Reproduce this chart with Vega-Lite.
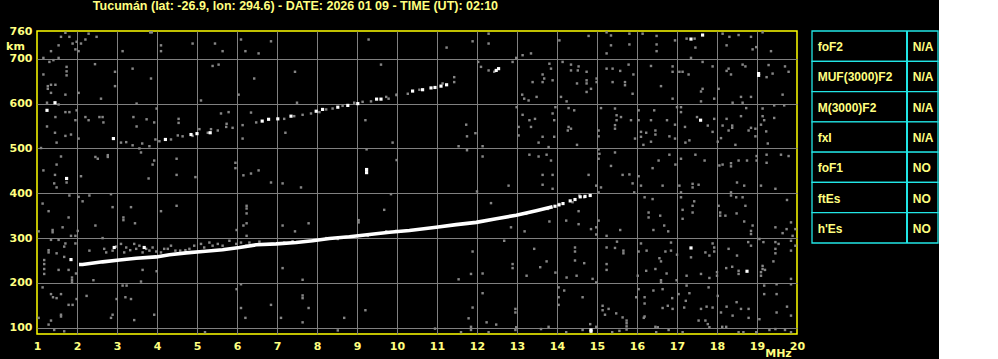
{
"$schema": "https://vega.github.io/schema/vega-lite/v6.json",
"background": "black",
"padding": {"left": 4, "top": 0, "right": 0, "bottom": 0},
"title": {"text": "Tucumán (lat: -26.9, lon: 294.6) - DATE: 2026 01 09 - TIME (UT): 02:10", "anchor": "start", "dx": 88, "offset": 12.5, "font": "Liberation Sans", "fontSize": 12.5, "fontWeight": "bold", "color": "#ffff80"},
"config": {"view": {"stroke": null}},
"spacing": 5,
"datasets": {
"trace": [
{"f":2.05,"h":241},{"f":2.14,"h":241},{"f":2.64,"h":247},{"f":3.06,"h":251},{"f":3.48,"h":255},{"f":3.98,"h":258},{"f":4.31,"h":263},{"f":4.73,"h":267},{"f":5.14,"h":270},{"f":5.64,"h":274},{"f":6.06,"h":279},{"f":6.48,"h":285},{"f":6.98,"h":287},{"f":7.48,"h":290},{"f":7.89,"h":294},{"f":8.31,"h":299},{"f":8.81,"h":303},{"f":9.31,"h":308},{"f":9.81,"h":313},{"f":10.31,"h":317},{"f":10.98,"h":324},{"f":11.48,"h":330},{"f":11.98,"h":335},{"f":12.48,"h":343},{"f":12.98,"h":351},{"f":13.48,"h":361},{"f":13.89,"h":370}
],
"white": [
{"f":13.95,"h":371},{"f":14.05,"h":374},{"f":14.15,"h":377},{"f":14.33,"h":383},{"f":14.45,"h":386},{"f":14.58,"h":392},{"f":14.7,"h":393},{"f":14.83,"h":395},
{"f":2.91,"h":522},{"f":4.21,"h":520},{"f":4.85,"h":531},{"f":5.0,"h":533},{"f":5.33,"h":535},{"f":6.63,"h":561},{"f":6.79,"h":565},{"f":7.02,"h":566},{"f":7.35,"h":572},{"f":7.98,"h":583},{"f":8.14,"h":587},{"f":8.52,"h":592},{"f":8.77,"h":596},{"f":9.02,"h":600},{"f":9.49,"h":610},{"f":9.6,"h":610},{"f":10.39,"h":628},{"f":10.64,"h":631},{"f":10.85,"h":635},{"f":10.95,"h":636},{"f":11.1,"h":639},{"f":11.24,"h":642},{"f":12.48,"h":674},{"f":12.54,"h":678},
{"f":1.45,"h":602},{"f":1.25,"h":585},{"f":1.74,"h":433},{"f":1.85,"h":252},{"f":2.93,"h":279},{"f":3.68,"h":279},{"f":9.24,"h":453},{"f":9.24,"h":446},{"f":17.64,"h":753},{"f":17.35,"h":744},{"f":19.04,"h":667},{"f":19.04,"h":663},{"f":17.59,"h":563},{"f":18.75,"h":226},{"f":17.35,"h":278},{"f":14.85,"h":92},{"f":14.85,"h":95}
],
"gray": [
{"f":3.1,"h":513},{"f":3.23,"h":514},{"f":3.39,"h":507},{"f":3.63,"h":511},{"f":3.81,"h":505},{"f":3.96,"h":520},{"f":4.06,"h":516},{"f":4.35,"h":520},{"f":4.52,"h":529},{"f":4.64,"h":527},{"f":4.89,"h":528},{"f":5.06,"h":543},{"f":5.27,"h":535},{"f":5.35,"h":543},{"f":5.52,"h":540},{"f":5.73,"h":548},{"f":5.89,"h":546},{"f":6.14,"h":552},{"f":6.48,"h":558},{"f":7.18,"h":566},{"f":7.43,"h":572},{"f":7.64,"h":575},{"f":7.85,"h":578},{"f":8.06,"h":581},{"f":8.23,"h":587},{"f":8.39,"h":589},{"f":8.64,"h":595},{"f":8.93,"h":602},{"f":9.14,"h":604},{"f":9.35,"h":605},{"f":9.73,"h":615},{"f":9.79,"h":611},{"f":9.99,"h":619},{"f":10.27,"h":622},{"f":10.56,"h":631},{"f":11.14,"h":645},{"f":11.43,"h":648},{"f":11.43,"h":659},{"f":12.43,"h":671},
{"f":2.31,"h":272},{"f":2.68,"h":276},{"f":2.73,"h":268},{"f":2.89,"h":272},{"f":2.98,"h":281},{"f":3.1,"h":287},{"f":3.18,"h":268},{"f":3.23,"h":279},{"f":3.33,"h":273},{"f":3.43,"h":287},{"f":3.48,"h":276},{"f":3.56,"h":283},{"f":3.64,"h":268},{"f":3.73,"h":276},{"f":3.81,"h":272},{"f":3.89,"h":279},{"f":3.98,"h":270},{"f":4.1,"h":268},{"f":4.18,"h":276},{"f":4.27,"h":276},{"f":4.35,"h":283},{"f":4.46,"h":272},{"f":4.58,"h":272},{"f":4.71,"h":273},{"f":4.81,"h":276},{"f":4.93,"h":283},{"f":5.1,"h":287},{"f":5.18,"h":279},{"f":5.31,"h":290},{"f":5.39,"h":283},{"f":5.52,"h":287},{"f":5.64,"h":283},{"f":5.81,"h":294},{"f":5.98,"h":287},{"f":6.1,"h":290},{"f":6.23,"h":283},{"f":6.31,"h":290},{"f":6.56,"h":292},{"f":6.89,"h":287},{"f":7.18,"h":290},{"f":7.39,"h":293},{"f":7.89,"h":296},{"f":8.23,"h":300},{"f":8.52,"h":298},{"f":8.81,"h":303},{"f":9.27,"h":305},{"f":9.73,"h":315},{"f":9.98,"h":316},
{"f":14.06,"h":376},{"f":14.39,"h":380},{"f":14.56,"h":395},{"f":14.68,"h":391},{"f":13.23,"h":354},{"f":13.77,"h":365},
{"f":11.24,"h":725},{"f":11.89,"h":739},{"f":12.29,"h":756},{"f":12.29,"h":734},{"f":13.14,"h":708},{"f":13.35,"h":712},{"f":12.98,"h":702},{"f":14.06,"h":741},{"f":14.79,"h":751},{"f":15.24,"h":759},{"f":15.35,"h":752},{"f":15.35,"h":730},{"f":15.81,"h":756},{"f":15.81,"h":732},{"f":15.24,"h":712},{"f":16.14,"h":756},{"f":16.49,"h":751},{"f":16.49,"h":732},{"f":16.49,"h":717},{"f":16.95,"h":741},{"f":17.24,"h":745},{"f":17.44,"h":745},{"f":18.14,"h":756},{"f":18.31,"h":749},{"f":18.54,"h":753},{"f":18.85,"h":749},{"f":19.14,"h":759},{"f":18.89,"h":721},{"f":19.35,"h":717},{"f":18.98,"h":726},{"f":18.24,"h":730},{"f":17.46,"h":725},{"f":17.35,"h":702},{"f":12.89,"h":693},{"f":12.03,"h":693},{"f":12.1,"h":682},{"f":12.29,"h":674},{"f":14.14,"h":693},{"f":14.35,"h":687},{"f":14.54,"h":683},{"f":14.35,"h":674},{"f":14.52,"h":674},{"f":14.74,"h":671},{"f":13.81,"h":689},{"f":13.85,"h":678},{"f":13.64,"h":665},{"f":13.68,"h":656},{"f":13.89,"h":652},{"f":13.39,"h":648},{"f":13.64,"h":648},{"f":14.5,"h":645},{"f":14.74,"h":652},{"f":14.74,"h":645},{"f":14.85,"h":633},{"f":14.74,"h":626},{"f":14.1,"h":615},{"f":14.24,"h":605},{"f":14.99,"h":656},{"f":14.99,"h":648},{"f":15.24,"h":678},{"f":15.39,"h":678},{"f":15.58,"h":673},{"f":15.79,"h":687},{"f":15.91,"h":665},{"f":15.39,"h":648},{"f":15.7,"h":648},{"f":15.7,"h":641},{"f":15.89,"h":622},{"f":16.35,"h":684},{"f":16.6,"h":639},{"f":16.89,"h":683},{"f":16.89,"h":671},{"f":17.06,"h":671},{"f":17.14,"h":671},{"f":17.29,"h":665},{"f":16.89,"h":611},{"f":17.64,"h":693},{"f":17.89,"h":683},{"f":17.64,"h":633},{"f":17.6,"h":627},{"f":17.6,"h":605},{"f":17.93,"h":611},{"f":18.04,"h":633},{"f":18.29,"h":678},{"f":18.24,"h":673},{"f":18.35,"h":665},{"f":18.64,"h":687},{"f":18.71,"h":683},{"f":19.24,"h":659},{"f":19.29,"h":686},{"f":19.39,"h":667},{"f":19.7,"h":683},{"f":19.79,"h":671},{"f":19.64,"h":620},{"f":18.85,"h":615},{"f":18.6,"h":615},{"f":18.39,"h":602},{"f":18.64,"h":602},{"f":19.43,"h":596},{"f":19.68,"h":596},{"f":13.13,"h":620},{"f":13.18,"h":611},{"f":13.29,"h":607},{"f":13.49,"h":615},{"f":12.99,"h":592},{"f":13.14,"h":575},{"f":13.31,"h":563},{"f":13.45,"h":566},{"f":13.04,"h":548},{"f":13.04,"h":529},{"f":13.35,"h":548},{"f":13.64,"h":526},{"f":13.54,"h":513},{"f":13.79,"h":503},{"f":13.93,"h":526},{"f":13.89,"h":578},{"f":13.93,"h":563},{"f":13.96,"h":592},{"f":14.29,"h":590},{"f":14.43,"h":585},{"f":14.29,"h":548},{"f":14.27,"h":540},{"f":14.35,"h":544},{"f":14.5,"h":508},{"f":14.79,"h":441},{"f":13.89,"h":441},{"f":13.64,"h":441},{"f":13.31,"h":486},{"f":13.54,"h":482},{"f":13.74,"h":486},{"f":13.85,"h":473},{"f":15.1,"h":590},{"f":15.04,"h":540},{"f":15.04,"h":527},{"f":15.04,"h":498},{"f":15.06,"h":488},{"f":15.45,"h":589},{"f":15.49,"h":574},{"f":15.49,"h":563},{"f":15.6,"h":570},{"f":15.45,"h":552},{"f":15.45,"h":544},{"f":15.85,"h":563},{"f":15.95,"h":522},{"f":16.04,"h":585},{"f":16.04,"h":563},{"f":16.1,"h":537},{"f":16.1,"h":526},{"f":16.23,"h":535},{"f":16.35,"h":563},{"f":16.43,"h":585},{"f":16.46,"h":540},{"f":16.46,"h":531},{"f":16.35,"h":515},{"f":16.16,"h":508},{"f":16.75,"h":563},{"f":16.81,"h":527},{"f":16.95,"h":553},{"f":16.95,"h":522},{"f":17.0,"h":592},{"f":17.1,"h":592},{"f":17.1,"h":581},{"f":17.2,"h":548},{"f":17.31,"h":518},{"f":17.21,"h":513},{"f":17.5,"h":570},{"f":17.77,"h":551},{"f":17.89,"h":537},{"f":17.93,"h":566},{"f":18.02,"h":515},{"f":18.14,"h":551},{"f":18.24,"h":566},{"f":18.38,"h":551},{"f":18.38,"h":546},{"f":18.29,"h":540},{"f":18.6,"h":572},{"f":18.73,"h":590},{"f":18.79,"h":540},{"f":18.85,"h":546},{"f":18.96,"h":544},{"f":19.14,"h":589},{"f":19.14,"h":572},{"f":19.18,"h":563},{"f":19.1,"h":553},{"f":19.23,"h":538},{"f":19.43,"h":568},{"f":19.27,"h":511},{"f":18.96,"h":527},{"f":18.1,"h":523},{"f":18.46,"h":508},{"f":11.73,"h":553},{"f":11.75,"h":527},{"f":11.54,"h":505},{"f":11.96,"h":534},{"f":12.14,"h":505},{"f":12.14,"h":482},{"f":11.75,"h":496},{"f":15.04,"h":477},{"f":15.45,"h":491},{"f":15.35,"h":461},{"f":15.64,"h":441},{"f":15.81,"h":442},{"f":16.04,"h":438},{"f":16.39,"h":456},{"f":16.54,"h":473},{"f":16.81,"h":486},{"f":16.96,"h":464},{"f":17.1,"h":477},{"f":17.46,"h":486},{"f":17.69,"h":473},{"f":18.06,"h":462},{"f":18.35,"h":467},{"f":18.54,"h":473},{"f":18.75,"h":473},{"f":18.99,"h":483},{"f":18.99,"h":473},{"f":19.24,"h":486},{"f":19.6,"h":486},{"f":19.79,"h":483},{"f":19.24,"h":468},{"f":18.14,"h":464},{"f":18.35,"h":460},
{"f":13.64,"h":419},{"f":13.89,"h":410},{"f":12.79,"h":417},{"f":12.0,"h":404},{"f":14.98,"h":417},{"f":15.1,"h":413},{"f":15.89,"h":422},{"f":16.1,"h":417},{"f":16.64,"h":417},{"f":17.06,"h":417},{"f":17.39,"h":421},{"f":17.39,"h":413},{"f":17.54,"h":419},{"f":18.5,"h":424},{"f":18.68,"h":417},{"f":19.1,"h":417},{"f":19.46,"h":410},{"f":15.04,"h":402},{"f":15.93,"h":402},{"f":16.19,"h":391},{"f":16.39,"h":387},{"f":17.1,"h":402},{"f":17.1,"h":391},{"f":17.39,"h":372},{"f":17.43,"h":382},{"f":18.35,"h":402},{"f":18.35,"h":395},{"f":18.48,"h":391},{"f":18.64,"h":391},{"f":18.71,"h":372},{"f":19.75,"h":385},{"f":18.04,"h":372},{"f":18.08,"h":357},{"f":18.08,"h":350},{"f":18.21,"h":350},{"f":18.49,"h":355},{"f":17.14,"h":363},{"f":17.39,"h":357},{"f":17.14,"h":343},{"f":16.29,"h":357},{"f":16.29,"h":346},{"f":16.58,"h":350},{"f":16.68,"h":328},{"f":16.78,"h":315},{"f":16.41,"h":318},{"f":15.58,"h":318},{"f":15.24,"h":305},{"f":15.04,"h":339},{"f":14.98,"h":324},{"f":14.98,"h":308},{"f":14.54,"h":360},{"f":14.54,"h":331},{"f":14.23,"h":339},{"f":14.85,"h":320},{"f":13.81,"h":337},{"f":13.19,"h":315},{"f":12.85,"h":324},{"f":12.35,"h":378},{"f":18.89,"h":328},{"f":18.68,"h":337},{"f":18.85,"h":316},{"f":18.85,"h":309},{"f":19.06,"h":298},{"f":19.46,"h":324},{"f":19.64,"h":311},{"f":19.74,"h":320},{"f":19.85,"h":335},{"f":19.96,"h":320},{"f":19.89,"h":305},{"f":19.85,"h":294},{"f":19.46,"h":291},{"f":19.54,"h":287},{"f":19.46,"h":276},{"f":19.46,"h":266},{"f":19.16,"h":291},{"f":19.96,"h":283},{"f":19.85,"h":272},{"f":19.14,"h":238},{"f":19.14,"h":231},{"f":19.2,"h":229},{"f":19.1,"h":224},{"f":19.1,"h":216},{"f":19.41,"h":248},{"f":19.85,"h":209},{"f":19.85,"h":197},{"f":19.49,"h":197},{"f":19.18,"h":194},{"f":18.78,"h":291},{"f":18.85,"h":283},{"f":18.29,"h":276},{"f":18.5,"h":261},{"f":18.38,"h":236},{"f":18.54,"h":227},{"f":18.54,"h":220},{"f":18.23,"h":233},{"f":17.81,"h":261},{"f":17.93,"h":279},{"f":17.93,"h":270},{"f":17.89,"h":288},{"f":17.71,"h":268},{"f":17.35,"h":257},{"f":17.6,"h":220},{"f":17.81,"h":211},{"f":18.0,"h":224},{"f":18.0,"h":216},{"f":17.24,"h":216},{"f":17.0,"h":263},{"f":16.99,"h":206},{"f":16.85,"h":290},{"f":16.85,"h":272},{"f":16.71,"h":270},{"f":16.56,"h":255},{"f":16.6,"h":248},{"f":16.74,"h":221},{"f":16.6,"h":206},{"f":16.6,"h":201},{"f":16.46,"h":231},{"f":16.24,"h":272},{"f":16.23,"h":227},{"f":16.1,"h":288},{"f":16.04,"h":270},{"f":16.02,"h":216},{"f":15.66,"h":272},{"f":15.66,"h":266},{"f":15.45,"h":278},{"f":15.5,"h":292},{"f":15.24,"h":279},{"f":15.24,"h":242},{"f":15.24,"h":229},{"f":14.89,"h":209},{"f":14.68,"h":244},{"f":14.45,"h":279},{"f":14.45,"h":270},{"f":14.45,"h":250},{"f":14.49,"h":216},{"f":14.24,"h":212},{"f":13.96,"h":223},{"f":13.74,"h":248},{"f":13.58,"h":235},{"f":13.43,"h":276},{"f":13.24,"h":216},{"f":12.89,"h":242},{"f":12.89,"h":233},{"f":12.68,"h":294},{"f":12.14,"h":221},{"f":11.89,"h":270},{"f":11.85,"h":220},{"f":11.54,"h":208},{"f":14.04,"h":190},{"f":14.04,"h":168},{"f":14.04,"h":151},{"f":14.18,"h":183},{"f":14.64,"h":168},{"f":14.98,"h":201},{"f":15.14,"h":149},{"f":15.14,"h":139},{"f":15.29,"h":142},{"f":15.2,"h":129},{"f":15.48,"h":132},{"f":15.64,"h":123},{"f":15.74,"h":116},{"f":15.74,"h":110},{"f":15.74,"h":103},{"f":15.74,"h":96},{"f":15.98,"h":168},{"f":16.04,"h":186},{"f":16.19,"h":168},{"f":16.19,"h":154},{"f":16.41,"h":183},{"f":16.64,"h":186},{"f":16.64,"h":144},{"f":16.77,"h":149},{"f":16.88,"h":166},{"f":16.89,"h":142},{"f":17.04,"h":175},{"f":17.18,"h":145},{"f":17.24,"h":194},{"f":17.31,"h":177},{"f":17.22,"h":160},{"f":17.6,"h":142},{"f":17.74,"h":147},{"f":17.79,"h":190},{"f":17.89,"h":145},{"f":18.02,"h":171},{"f":18.1,"h":134},{"f":18.24,"h":147},{"f":18.39,"h":127},{"f":18.49,"h":157},{"f":18.6,"h":142},{"f":18.79,"h":142},{"f":18.79,"h":122},{"f":19.06,"h":119},{"f":19.18,"h":175},{"f":19.49,"h":175},{"f":19.49,"h":134},{"f":19.85,"h":127},{"f":19.75,"h":147},{"f":17.54,"h":116},{"f":17.71,"h":116},{"f":17.77,"h":108},{"f":17.81,"h":101},{"f":18.13,"h":102},{"f":18.23,"h":102},{"f":16.19,"h":125},{"f":16.17,"h":122},{"f":16.46,"h":102},{"f":16.52,"h":101},{"f":16.79,"h":95},{"f":17.14,"h":90},{"f":16.48,"h":90},{"f":15.56,"h":93},{"f":15.38,"h":90},{"f":14.98,"h":102},{"f":14.83,"h":108},{"f":14.64,"h":95},{"f":14.23,"h":90},{"f":13.79,"h":102},{"f":13.6,"h":97},{"f":12.96,"h":142},{"f":12.96,"h":134},{"f":12.98,"h":101},{"f":12.96,"h":95},{"f":12.48,"h":107},{"f":12.24,"h":112},{"f":12.14,"h":177},{"f":11.89,"h":145},{"f":11.85,"h":102},{"f":11.85,"h":95},{"f":11.79,"h":121},{"f":12.29,"h":90},{"f":19.31,"h":95},{"f":19.46,"h":97},{"f":19.7,"h":95},{"f":19.85,"h":90},{"f":18.98,"h":90},{"f":18.54,"h":90},{"f":18.66,"h":90},
{"f":1.71,"h":758},{"f":1.6,"h":749},{"f":1.81,"h":749},{"f":1.89,"h":734},{"f":1.99,"h":738},{"f":2.1,"h":734},{"f":2.21,"h":743},{"f":2.29,"h":756},{"f":2.49,"h":749},{"f":1.54,"h":730},{"f":1.35,"h":717},{"f":1.96,"h":721},{"f":2.04,"h":717},{"f":1.16,"h":702},{"f":1.54,"h":702},{"f":1.31,"h":693},{"f":1.41,"h":697},{"f":1.74,"h":682},{"f":1.74,"h":672},{"f":1.74,"h":663},{"f":1.16,"h":665},{"f":1.27,"h":639},{"f":1.27,"h":633},{"f":1.35,"h":642},{"f":1.46,"h":642},{"f":1.35,"h":624},{"f":1.71,"h":620},{"f":2.04,"h":624},{"f":1.25,"h":602},{"f":1.54,"h":598},{"f":1.46,"h":570},{"f":1.71,"h":581},{"f":1.81,"h":581},{"f":1.99,"h":585},{"f":1.96,"h":563},{"f":1.25,"h":549},{"f":1.45,"h":535},{"f":1.71,"h":528},{"f":1.85,"h":531},{"f":2.04,"h":522},{"f":1.49,"h":513},{"f":1.1,"h":501},{"f":1.6,"h":482},{"f":1.49,"h":464},{"f":1.16,"h":451},{"f":1.45,"h":441},{"f":2.1,"h":438},{"f":2.46,"h":481},{"f":2.52,"h":477},{"f":2.77,"h":485},{"f":2.77,"h":481},{"f":2.45,"h":688},{"f":2.95,"h":671},{"f":2.95,"h":639},{"f":2.6,"h":611},{"f":2.21,"h":570},{"f":2.29,"h":563},{"f":2.56,"h":570},{"f":2.64,"h":570},{"f":2.66,"h":558},{"f":3.14,"h":717},{"f":3.39,"h":678},{"f":3.85,"h":656},{"f":3.83,"h":759},{"f":3.87,"h":759},{"f":3.49,"h":600},{"f":3.41,"h":570},{"f":3.49,"h":549},{"f":3.74,"h":565},{"f":3.93,"h":558},{"f":3.99,"h":589},{"f":3.56,"h":500},{"f":3.93,"h":473},{"f":3.89,"h":464},{"f":3.6,"h":491},{"f":3.79,"h":433},{"f":4.1,"h":730},{"f":4.1,"h":717},{"f":4.89,"h":734},{"f":5.45,"h":734},{"f":5.64,"h":717},{"f":5.39,"h":684},{"f":5.54,"h":687},{"f":4.54,"h":566},{"f":4.54,"h":557},{"f":4.49,"h":477},{"f":4.49,"h":441},{"f":4.96,"h":436},{"f":5.1,"h":607},{"f":5.6,"h":578},{"f":5.79,"h":581},{"f":5.74,"h":555},{"f":5.96,"h":468},{"f":5.96,"h":456},{"f":6.16,"h":440},{"f":6.35,"h":444},{"f":6.54,"h":451},{"f":6.1,"h":743},{"f":6.21,"h":717},{"f":6.54,"h":712},{"f":6.85,"h":739},{"f":6.43,"h":656},{"f":6.04,"h":620},{"f":6.14,"h":522},{"f":6.35,"h":580},{"f":7.45,"h":671},{"f":7.5,"h":602},{"f":7.21,"h":535},{"f":9.29,"h":743},{"f":9.6,"h":687},{"f":9.99,"h":620},{"f":9.21,"h":563},{"f":9.24,"h":498},{"f":9.89,"h":513},{"f":9.99,"h":474},
{"f":1.43,"h":422},{"f":1.49,"h":413},{"f":1.74,"h":424},{"f":1.81,"h":395},{"f":2.04,"h":392},{"f":2.31,"h":395},{"f":2.14,"h":382},{"f":2.85,"h":398},{"f":2.89,"h":369},{"f":3.35,"h":369},{"f":3.16,"h":346},{"f":3.16,"h":340},{"f":3.45,"h":333},{"f":4.1,"h":360},{"f":4.49,"h":372},{"f":1.14,"h":377},{"f":1.29,"h":360},{"f":1.79,"h":346},{"f":1.04,"h":315},{"f":1.39,"h":318},{"f":1.39,"h":313},{"f":1.64,"h":324},{"f":1.85,"h":305},{"f":1.96,"h":305},{"f":2.02,"h":316},{"f":2.46,"h":328},{"f":2.64,"h":300},{"f":1.35,"h":296},{"f":1.54,"h":296},{"f":1.71,"h":288},{"f":1.96,"h":288},{"f":1.29,"h":273},{"f":1.29,"h":268},{"f":1.18,"h":251},{"f":1.18,"h":242},{"f":1.18,"h":231},{"f":1.18,"h":220},{"f":1.49,"h":266},{"f":1.68,"h":281},{"f":1.68,"h":258},{"f":1.54,"h":229},{"f":1.79,"h":229},{"f":1.875,"h":212},{"f":1.875,"h":206},{"f":1.875,"h":201},{"f":1.975,"h":221},{"f":1.14,"h":190},{"f":1.35,"h":175},{"f":1.4,"h":168},{"f":1.49,"h":166},{"f":1.6,"h":175},{"f":1.99,"h":164},{"f":1.79,"h":151},{"f":1.89,"h":151},{"f":2.24,"h":171},{"f":2.41,"h":206},{"f":3.14,"h":194},{"f":3.24,"h":194},{"f":2.99,"h":164},{"f":3.21,"h":168},{"f":3.35,"h":164},{"f":3.6,"h":203},{"f":3.64,"h":229},{"f":3.99,"h":226},{"f":2.89,"h":129},{"f":2.85,"h":122},{"f":3.43,"h":117},{"f":3.93,"h":129},{"f":1.6,"h":129},{"f":1.6,"h":125},{"f":1.35,"h":116},{"f":1.29,"h":107},{"f":1.43,"h":95},{"f":1.68,"h":92},{"f":1.04,"h":122},{"f":6.24,"h":372},{"f":6.24,"h":366},{"f":6.24,"h":355},{"f":6.16,"h":328},{"f":6.24,"h":333},{"f":5.99,"h":318},{"f":6.24,"h":305},{"f":5.99,"h":186},{"f":6.1,"h":197},{"f":6.1,"h":144},{"f":6.21,"h":122},{"f":6.85,"h":424},{"f":7.14,"h":422},{"f":7.6,"h":413},{"f":7.14,"h":328},{"f":7.45,"h":315},{"f":7.79,"h":333},{"f":7.14,"h":233},{"f":7.64,"h":207},{"f":7.64,"h":172},{"f":7.64,"h":166},{"f":6.85,"h":151},{"f":7.79,"h":144},{"f":7.1,"h":122},{"f":7.64,"h":112},{"f":8.68,"h":122},{"f":9.04,"h":340},{"f":9.04,"h":335},{"f":9.21,"h":139},{"f":9.68,"h":363},{"f":9.85,"h":398},{"f":11.6,"h":90},{"f":10.95,"h":98},{"f":8.52,"h":94},{"f":5.2,"h":90}
],
"table": [
{"p":"foF2","v":"N/A"},{"p":"MUF(3000)F2","v":"N/A"},{"p":"M(3000)F2","v":"N/A"},{"p":"fxI","v":"N/A"},{"p":"foF1","v":"NO"},{"p":"ftEs","v":"NO"},{"p":"h'Es","v":"NO"}
]
},
"hconcat": [
{
"width": 760,
"height": 303,
"view": {"stroke": "#ffff00", "strokeWidth": 1.5},
"encoding": {
"x": {"field": "f", "type": "quantitative", "scale": {"domain": [1, 20], "nice": false, "zero": false},
"axis": {"values": [1,2,3,4,5,6,7,8,9,10,11,12,13,14,15,16,17,18,19,20], "title": "MHz", "grid": true,
"gridColor": {"condition": {"test": "datum.value == 1 || datum.value == 20", "value": "transparent"}, "value": "#808080"},
"gridWidth": 1, "domain": false, "ticks": false, "labelFlush": false, "labelPadding": 6,
"labelColor": "#ffff80", "labelFont": "DejaVu Sans", "labelFontSize": 11, "labelFontWeight": "bold",
"titleColor": "#ffff80", "titleFont": "DejaVu Sans", "titleFontSize": 11, "titleFontWeight": "bold",
"titleX": 741, "titleY": 19, "titleAlign": "center", "titleBaseline": "middle"}},
"y": {"field": "h", "type": "quantitative", "scale": {"domain": [86, 762], "nice": false, "zero": false},
"axis": {"values": [100,200,300,400,500,600,700,760], "title": "km", "grid": true,
"gridColor": {"condition": {"test": "datum.value == 760", "value": "transparent"}, "value": "#808080"},
"gridWidth": 1, "domain": false, "ticks": false, "labelPadding": 5,
"labelColor": "#ffff80", "labelFont": "DejaVu Sans", "labelFontSize": 11, "labelFontWeight": "bold",
"titleColor": "#ffff80", "titleFont": "DejaVu Sans", "titleFontSize": 11, "titleFontWeight": "bold",
"titleAngle": 0, "titleX": -22, "titleY": 15, "titleAlign": "center", "titleBaseline": "middle"}}
},
"layer": [
{"data": {"name": "gray"}, "mark": {"type": "square", "size": 6, "color": "#858585", "opacity": 1}},
{"data": {"name": "trace"}, "mark": {"type": "line", "color": "#ffffff", "strokeWidth": 3.6}},
{"data": {"name": "white"}, "mark": {"type": "square", "size": 10, "color": "#ffffff", "opacity": 1}}
]
},
{
"width": 126,
"height": 212,
"data": {"name": "table"},
"layer": [
{"mark": {"type": "rect", "fill": "black", "stroke": "#22e6e6", "strokeWidth": 1.3},
"encoding": {"y": {"field": "p", "type": "nominal", "sort": null, "axis": null, "scale": {"paddingInner": 0, "paddingOuter": 0}}}},
{"mark": {"type": "rule", "color": "#22e6e6", "strokeWidth": 1.3}, "encoding": {"x": {"datum": 0.754, "type": "quantitative", "scale": {"domain": [0, 1]}, "axis": null}}},
{"mark": {"type": "text", "align": "left", "baseline": "middle", "dy": 1, "color": "#ffff80", "font": "Liberation Sans", "fontSize": 12, "fontWeight": "bold"},
"encoding": {"x": {"datum": 0.045, "type": "quantitative"}, "y": {"field": "p", "type": "nominal", "sort": null}, "text": {"field": "p"}}},
{"mark": {"type": "text", "align": "left", "baseline": "middle", "dy": 1, "color": "#ffff80", "font": "Liberation Sans", "fontSize": 12, "fontWeight": "bold"},
"encoding": {"x": {"datum": 0.8, "type": "quantitative"}, "y": {"field": "p", "type": "nominal", "sort": null}, "text": {"field": "v"}}}
]
}
]
}
